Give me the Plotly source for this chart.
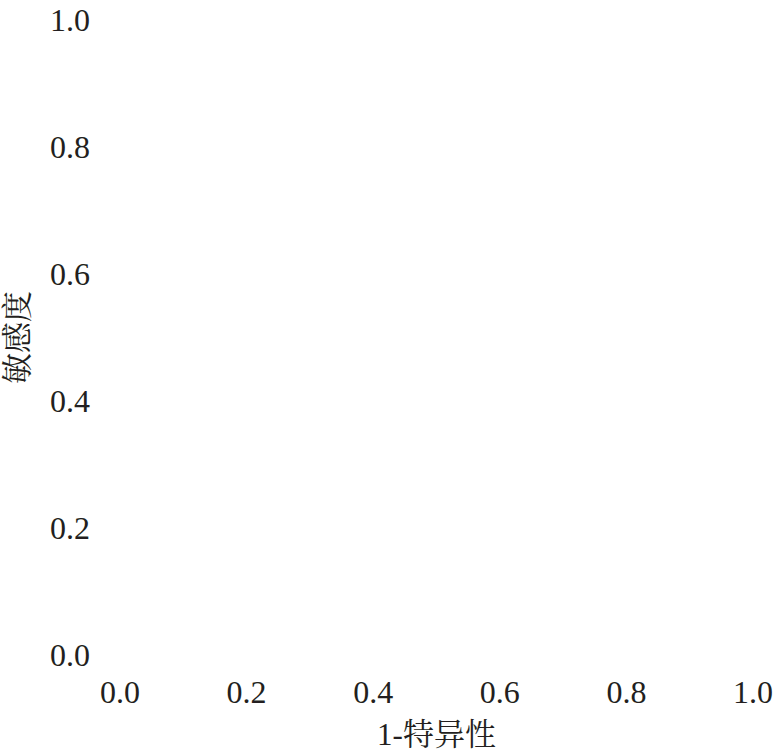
import plotly.graph_objects as go

# Axis ticks (the chart contains no data marks)
x_tickvals = [0.0, 0.2, 0.4, 0.6, 0.8, 1.0]
x_ticktext = ["0.0", "0.2", "0.4", "0.6", "0.8", "1.0"]
y_tickvals = [0.0, 0.2, 0.4, 0.6, 0.8, 1.0]
y_ticktext = ["0.0", "0.2", "0.4", "0.6", "0.8", "1.0"]
x_title = "1-特异性"
y_title = "敏感度"

FONT = "Liberation Serif, Noto Serif CJK SC, Noto Sans CJK SC, serif"

fig = go.Figure()
fig.add_trace(go.Scatter(x=[], y=[], mode="lines", showlegend=False))

fig.update_layout(
    width=774, height=752,
    paper_bgcolor="white", plot_bgcolor="white",
    margin=dict(l=120, r=21, t=20, b=97),
    font=dict(family=FONT, size=32, color="#231f20"),
    showlegend=False,
)
fig.update_xaxes(
    range=[0, 1], tickvals=x_tickvals, ticktext=x_ticktext,
    showgrid=False, zeroline=False, showline=False,
    ticks="", ticklabelstandoff=15, ticklabeloverflow="allow",
    title=dict(text=x_title, font=dict(size=31), standoff=19),
    automargin=False,
)
fig.update_yaxes(
    range=[0, 1], tickvals=y_tickvals, ticktext=y_ticktext,
    showgrid=False, zeroline=False, showline=False,
    ticks="", ticklabelstandoff=29, ticklabeloverflow="allow",
    title=dict(text=y_title, font=dict(size=31), standoff=12),
    automargin=False,
)

fig.write_html(
    "out.html",
    config={"displayModeBar": False},
    post_script="document.body.style.margin='0';document.body.style.overflow='hidden';",
)
